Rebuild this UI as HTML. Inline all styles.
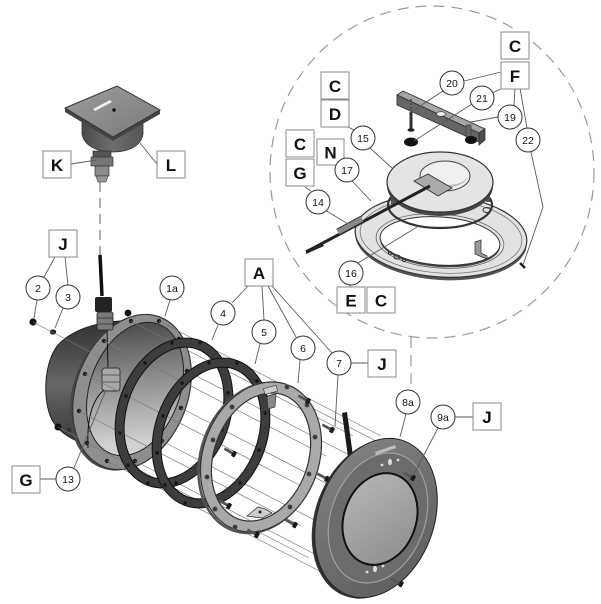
<!DOCTYPE html>
<html><head><meta charset="utf-8">
<style>
html,body{margin:0;padding:0;background:#fff;}
svg{display:block;}
.lb{font-family:"Liberation Sans",Arial,sans-serif;font-weight:bold;font-size:17px;fill:#111;text-anchor:middle;}
.nm{font-family:"Liberation Sans",Arial,sans-serif;font-size:10.5px;fill:#111;text-anchor:middle;}
.bx{fill:#fff;stroke:#8a8a8a;stroke-width:1;}
.ci{fill:#fff;stroke:#333;stroke-width:1;}
.ld{stroke:#5a5a5a;stroke-width:0.9;fill:none;}
.al{stroke:#7a7a7a;stroke-width:0.7;fill:none;}
</style></head><body>
<svg width="601" height="604" viewBox="0 0 601 604" xmlns="http://www.w3.org/2000/svg">
<defs>
<linearGradient id="bodyG" x1="0" y1="0" x2="0" y2="1">
 <stop offset="0" stop-color="#2f2f2f"/><stop offset=".45" stop-color="#676767"/><stop offset="1" stop-color="#2a2a2a"/>
</linearGradient>
<linearGradient id="openG" x1="0" y1="0" x2="0.3" y2="1">
 <stop offset="0" stop-color="#3a3a3a"/><stop offset=".5" stop-color="#8a8a8a"/><stop offset="1" stop-color="#d2d2d2"/>
</linearGradient>
<linearGradient id="plateG" x1="0" y1="0" x2="1" y2="1"><stop offset="0" stop-color="#9c9c9c"/><stop offset="1" stop-color="#7a7a7a"/></linearGradient>
<linearGradient id="bowlG" x1="0" y1="0" x2="1" y2="0"><stop offset="0" stop-color="#4a4a4a"/><stop offset=".5" stop-color="#6e6e6e"/><stop offset="1" stop-color="#555"/></linearGradient>
<linearGradient id="lampG" x1="0" y1="0" x2="1" y2="1"><stop offset="0" stop-color="#858585"/><stop offset="1" stop-color="#5a5a5a"/></linearGradient>
<linearGradient id="lensG" x1="0" y1="0" x2="1" y2="1"><stop offset="0" stop-color="#b8b8b8"/><stop offset="1" stop-color="#8c8c8c"/></linearGradient>
<g id="scr"><rect x="-11" y="-1.4" width="10" height="2.8" fill="#555"/><rect x="-2" y="-3" width="4" height="6" rx="1" fill="#1a1a1a"/></g>
</defs>

<!-- dashed detail circle -->
<ellipse cx="432" cy="172" rx="162" ry="166" fill="none" stroke="#9a9a9a" stroke-width="1.2" stroke-dasharray="11 7"/>
<line x1="411" y1="337" x2="411" y2="384" stroke="#9a9a9a" stroke-width="1.2" stroke-dasharray="11 7"/>
<line x1="100" y1="182" x2="100" y2="262" stroke="#777" stroke-width="1.2" stroke-dasharray="10 6"/>

<!-- junction box -->
<path d="M82,121 L82,134 C84,147 100,152 112,152 C127,152 141,147 143,134 L143,121 Z" fill="url(#bowlG)" stroke="#333" stroke-width="0.8"/>
<polygon points="65,108 113,137 160,110 160,114 113,141 65,112" fill="#444"/>
<polygon points="65,108 117,86 160,110 113,137" fill="url(#plateG)" stroke="#333" stroke-width="1"/>
<polygon points="93,109 110,100 112,102 95,111" fill="#eee"/>
<circle cx="114" cy="110" r="1.7" fill="#111"/>
<rect x="93" y="151" width="18" height="7" fill="#555" stroke="#333" stroke-width=".7"/>
<rect x="91" y="157" width="22" height="9" fill="#777" stroke="#333" stroke-width=".7"/>
<rect x="95" y="166" width="14" height="10" fill="#8a8a8a" stroke="#333" stroke-width=".7"/>
<path d="M96,176 L108,176 L106,182 L98,182 Z" fill="#999" stroke="#333" stroke-width=".6"/>

<!-- top right assembly -->
<!-- ring 16 -->
<ellipse cx="441" cy="239" rx="86" ry="41" transform="rotate(4 441 239)" fill="#555"/>
<ellipse cx="441" cy="236" rx="86" ry="41" transform="rotate(4 441 236)" fill="#e2e2e2" stroke="#333" stroke-width="1.2"/>
<ellipse cx="441" cy="236" rx="81" ry="37" transform="rotate(4 441 236)" fill="none" stroke="#777" stroke-width="0.8"/>
<ellipse cx="440" cy="241" rx="64" ry="27" transform="rotate(4 440 241)" fill="none" stroke="#666" stroke-width="0.8"/>
<ellipse cx="440" cy="243" rx="60" ry="24" transform="rotate(4 440 243)" fill="#444"/>
<ellipse cx="440" cy="241" rx="60" ry="24" transform="rotate(4 440 241)" fill="#fff" stroke="#333" stroke-width="1"/>
<circle cx="390" cy="253" r="1.6" fill="none" stroke="#333"/>
<ellipse cx="397" cy="257" rx="3" ry="2" fill="none" stroke="#333"/>
<circle cx="404" cy="260" r="1.6" fill="none" stroke="#333"/>
<ellipse cx="487" cy="210" rx="4" ry="2.5" fill="none" stroke="#333"/>
<polygon points="475,242 481,240 481,253 487,256 487,259 475,254" fill="#999" stroke="#333" stroke-width=".8"/>
<!-- gasket 17 -->
<ellipse cx="440" cy="205" rx="52" ry="23" fill="none" stroke="#333" stroke-width="2.2"/>
<rect x="391" y="192" width="4" height="12" fill="#555"/>
<rect x="486" y="190" width="4" height="12" fill="#555"/>
<!-- disc 15 -->
<ellipse cx="440" cy="186" rx="53" ry="30" fill="#444"/>
<ellipse cx="440" cy="182" rx="53" ry="30" fill="#e4e4e4" stroke="#333" stroke-width="1.2"/>
<ellipse cx="445" cy="176" rx="25" ry="15" fill="#f0f0f0" stroke="#444" stroke-width="1"/>
<path d="M433,187 C448,190 466,186 468,176 C465,184 450,187 433,184 Z" fill="#bbb"/>
<polygon points="414,181 428,174 452,188 438,196" fill="#aaa" stroke="#333" stroke-width="0.9"/>
<!-- cable 14 -->
<line x1="430" y1="186" x2="306" y2="252" stroke="#222" stroke-width="3"/>
<line x1="338" y1="232" x2="362" y2="219" stroke="#333" stroke-width="7"/>
<line x1="338" y1="232" x2="362" y2="219" stroke="#8a8a8a" stroke-width="5"/>
<polygon points="306,250 322,243 324,246 306,254" fill="#222"/>
<!-- bracket -->
<polygon points="397,95 403,91 485,129 479,133" fill="#a6a6a6" stroke="#333" stroke-width=".9"/>
<polygon points="397,95 479,133 479,142 397,105" fill="#666" stroke="#333" stroke-width=".9"/>
<polygon points="479,133 485,129 485,140 479,145" fill="#4a4a4a" stroke="#333" stroke-width=".8"/>
<ellipse cx="441" cy="114" rx="4.5" ry="2.3" fill="#eee" stroke="#333" stroke-width=".6"/>
<rect x="466" y="125" width="5" height="12" fill="#666" stroke="#333" stroke-width=".6"/>
<line x1="411" y1="99" x2="411" y2="112" stroke="#444" stroke-width="1.5" stroke-dasharray="2 2"/>
<rect x="409.5" y="112" width="3" height="17" fill="#333"/>
<ellipse cx="411" cy="130" rx="3.5" ry="1.8" fill="#222"/>
<ellipse cx="411" cy="142" rx="7" ry="4.5" fill="#111"/>
<ellipse cx="471" cy="140" rx="6" ry="4" fill="#111"/>
<!-- screw 22 -->
<path d="M520,263 L525,268" stroke="#222" stroke-width="2.5"/>

<!-- housing body -->
<path d="M150,320 L120,321 C95,323 72,330 58,345 C44,362 42,400 52,420 C58,430 66,436 75,440 L110,462 Z" fill="url(#bodyG)" stroke="#222" stroke-width="1"/>
<!-- flange -->
<ellipse cx="129" cy="393" rx="56" ry="80" transform="rotate(20 129 393)" fill="#4a4a4a"/>
<ellipse cx="132" cy="392" rx="56" ry="80" transform="rotate(20 132 392)" fill="#8e8e8e" stroke="#333" stroke-width="1.2"/>
<ellipse cx="135" cy="389" rx="45" ry="69" transform="rotate(20 135 389)" fill="url(#openG)" stroke="#222" stroke-width="1"/>
<g fill="#1e1e1e">
<circle cx="181" cy="408" r="2.2"/><circle cx="162" cy="441" r="2.2"/><circle cx="135" cy="461" r="2.2"/>
<circle cx="107" cy="461" r="2.2"/><circle cx="87" cy="443" r="2.2"/><circle cx="79" cy="411" r="2.2"/>
<circle cx="85" cy="374" r="2.2"/><circle cx="104" cy="341" r="2.2"/><circle cx="131" cy="321" r="2.2"/>
<circle cx="159" cy="321" r="2.2"/><circle cx="179" cy="339" r="2.2"/><circle cx="187" cy="371" r="2.2"/>
</g>
<!-- cable gland top -->
<line x1="100" y1="255" x2="102" y2="296" stroke="#111" stroke-width="3.5"/>
<rect x="95" y="297" width="17" height="15" rx="2" fill="#222"/>
<rect x="97" y="312" width="16" height="18" rx="2" fill="#7a7a7a" stroke="#222" stroke-width=".8"/>
<line x1="97" y1="318" x2="113" y2="318" stroke="#333" stroke-width=".8"/>
<line x1="97" y1="324" x2="113" y2="324" stroke="#333" stroke-width=".8"/>
<line x1="107" y1="331" x2="108" y2="367" stroke="#111" stroke-width="1"/>
<!-- gland 13 -->
<rect x="102" y="368" width="18" height="23" rx="3" fill="#a8a8a8" stroke="#333" stroke-width=".9"/>
<line x1="102" y1="375" x2="120" y2="375" stroke="#444" stroke-width=".8"/>
<line x1="102" y1="382" x2="120" y2="382" stroke="#444" stroke-width=".8"/>
<path d="M104,390 Q86,405 88,448" fill="none" stroke="#111" stroke-width="1"/>
<!-- nuts -->
<circle cx="33" cy="322" r="3.6" fill="#111"/>
<ellipse cx="53" cy="332" rx="3.2" ry="2.6" fill="#222"/>
<circle cx="128" cy="313" r="3.4" fill="#111"/>
<circle cx="58" cy="427" r="3.5" fill="#111"/>
<circle cx="69" cy="430" r="2.5" fill="#333"/>

<!-- alignment lines -->
<g class="al">
<line x1="33" y1="322" x2="100" y2="357"/>
<line x1="58" y1="427" x2="79" y2="438"/>
<line x1="131" y1="321" x2="353" y2="436"/>
<line x1="159" y1="321" x2="381" y2="436"/>
<line x1="179" y1="339" x2="401" y2="454"/>
<line x1="187" y1="371" x2="409" y2="486"/>
<line x1="181" y1="408" x2="403" y2="523"/>
<line x1="162" y1="441" x2="384" y2="556"/>
<line x1="135" y1="461" x2="357" y2="576"/>
<line x1="107" y1="461" x2="329" y2="576"/>
<line x1="87" y1="443" x2="309" y2="558"/>
<line x1="79" y1="411" x2="301" y2="526"/>
<line x1="85" y1="374" x2="307" y2="489"/>
<line x1="104" y1="341" x2="326" y2="456"/>
</g>

<!-- ring 4 -->
<ellipse cx="174" cy="413" rx="51.5" ry="72.5" transform="rotate(20 174 413)" fill="none" stroke="#3d3d3d" stroke-width="9"/>
<ellipse cx="174" cy="413" rx="56" ry="77" transform="rotate(20 174 413)" fill="none" stroke="#111" stroke-width="1"/>
<ellipse cx="174" cy="413" rx="47" ry="68" transform="rotate(20 174 413)" fill="none" stroke="#111" stroke-width="1"/>
<g fill="#151515">
<circle cx="222" cy="430" r="1.7"/><circle cx="203" cy="463" r="1.7"/><circle cx="176" cy="483" r="1.7"/>
<circle cx="148" cy="483" r="1.7"/><circle cx="128" cy="465" r="1.7"/><circle cx="120" cy="433" r="1.7"/>
<circle cx="126" cy="396" r="1.7"/><circle cx="145" cy="363" r="1.7"/><circle cx="172" cy="343" r="1.7"/>
<circle cx="200" cy="343" r="1.7"/><circle cx="220" cy="361" r="1.7"/><circle cx="228" cy="393" r="1.7"/>
</g>
<!-- ring 5 -->
<ellipse cx="211" cy="433" rx="51.5" ry="72.5" transform="rotate(20 211 433)" fill="none" stroke="#3d3d3d" stroke-width="9"/>
<ellipse cx="211" cy="433" rx="56" ry="77" transform="rotate(20 211 433)" fill="none" stroke="#111" stroke-width="1"/>
<ellipse cx="211" cy="433" rx="47" ry="68" transform="rotate(20 211 433)" fill="none" stroke="#111" stroke-width="1"/>
<g fill="#151515">
<circle cx="259" cy="450" r="1.7"/><circle cx="240" cy="483" r="1.7"/><circle cx="213" cy="503" r="1.7"/>
<circle cx="185" cy="503" r="1.7"/><circle cx="165" cy="485" r="1.7"/><circle cx="157" cy="453" r="1.7"/>
<circle cx="163" cy="416" r="1.7"/><circle cx="182" cy="383" r="1.7"/><circle cx="209" cy="363" r="1.7"/>
<circle cx="237" cy="363" r="1.7"/><circle cx="257" cy="381" r="1.7"/><circle cx="265" cy="413" r="1.7"/>
</g>
<!-- screws between -->
<use href="#scr" transform="translate(234,454) rotate(29)"/>
<use href="#scr" transform="translate(229,506) rotate(29)"/>
<!-- ring 6 -->
<ellipse cx="259" cy="458" rx="58" ry="77" transform="rotate(20 259 458)" fill="none" stroke="#555" stroke-width="2.5"/>
<ellipse cx="261" cy="457" rx="52.5" ry="71.5" transform="rotate(20 261 457)" fill="none" stroke="#a9a9a9" stroke-width="11"/>
<ellipse cx="261" cy="457" rx="58" ry="77" transform="rotate(20 261 457)" fill="none" stroke="#333" stroke-width="1.2"/>
<ellipse cx="261" cy="457" rx="47" ry="66" transform="rotate(20 261 457)" fill="none" stroke="#333" stroke-width="1.2"/>
<g fill="#3a3a3a" stroke="#777" stroke-width=".6">
<circle cx="309" cy="474" r="2.4"/><circle cx="290" cy="507" r="2.4"/>
<circle cx="235" cy="527" r="2.4"/><circle cx="215" cy="509" r="2.4"/><circle cx="207" cy="477" r="2.4"/>
<circle cx="213" cy="440" r="2.4"/><circle cx="232" cy="407" r="2.4"/>
<circle cx="287" cy="387" r="2.4"/><circle cx="307" cy="405" r="2.4"/><circle cx="315" cy="437" r="2.4"/>
</g>
<rect x="264" y="387" width="13" height="6" fill="#ccc" stroke="#333" stroke-width=".6" transform="rotate(-15 270 390)"/>
<polygon points="267,396 276,394 275,407 268,409" fill="#888" stroke="#333" stroke-width=".7"/>
<polygon points="247,516 258,507 265,509 272,513 262,518" fill="#cfcfcf" stroke="#333" stroke-width=".8"/>
<circle cx="260" cy="512" r="1.5" fill="#222"/>
<!-- screws near ring 6 -->
<use href="#scr" transform="translate(308,401) rotate(29)"/>
<use href="#scr" transform="translate(332,430) rotate(29)"/>
<use href="#scr" transform="translate(327,479) rotate(29)"/>
<use href="#scr" transform="translate(295,525) rotate(29)"/>
<use href="#scr" transform="translate(257,535) rotate(29)"/>
<!-- rod -->
<polygon points="342,413 347,412 353,456 348,457" fill="#1a1a1a"/>
<!-- lamp -->
<ellipse cx="373" cy="519" rx="58" ry="82" transform="rotate(20 373 519)" fill="#333"/>
<ellipse cx="376" cy="518" rx="58" ry="82" transform="rotate(20 376 518)" fill="url(#lampG)" stroke="#222" stroke-width="1"/>
<ellipse cx="378" cy="518" rx="47" ry="67" transform="rotate(20 378 518)" fill="#6c6c6c" stroke="#a0a0a0" stroke-width="1.2"/>
<ellipse cx="380" cy="519" rx="36" ry="47" transform="rotate(20 380 519)" fill="url(#lensG)" stroke="#111" stroke-width="2"/>
<polygon points="375,452 395,445 396,448 376,455" fill="#bdbdbd"/>
<ellipse cx="390" cy="462" rx="2" ry="3.2" fill="#ddd"/>
<circle cx="382" cy="465" r="1.4" fill="#ddd"/><circle cx="398" cy="460" r="1.4" fill="#ddd"/>
<ellipse cx="375" cy="569" rx="2" ry="3.2" fill="#ddd"/>
<circle cx="367" cy="572" r="1.4" fill="#ddd"/><circle cx="383" cy="566" r="1.4" fill="#ddd"/>
<use href="#scr" transform="translate(413,478) rotate(29)"/>
<use href="#scr" transform="translate(401,584) rotate(29)"/>

<!-- leader lines -->
<g class="ld">
<line x1="71" y1="164" x2="97" y2="160"/>
<line x1="157" y1="164" x2="140" y2="143"/>
<line x1="55" y1="257" x2="44" y2="277"/>
<line x1="65" y1="257" x2="68" y2="285"/>
<line x1="37" y1="300" x2="34" y2="318"/>
<line x1="63" y1="308" x2="55" y2="328"/>
<line x1="170" y1="300" x2="165" y2="316"/>
<line x1="248" y1="286" x2="232" y2="303"/>
<line x1="262" y1="286" x2="264" y2="320"/>
<line x1="268" y1="286" x2="296" y2="337"/>
<line x1="272" y1="286" x2="332" y2="353"/>
<line x1="218" y1="325" x2="212" y2="340"/>
<line x1="260" y1="344" x2="255" y2="364"/>
<line x1="300" y1="360" x2="298" y2="383"/>
<line x1="338" y1="375" x2="335" y2="426"/>
<line x1="351" y1="363" x2="368" y2="363"/>
<line x1="406" y1="414" x2="400" y2="437"/>
<line x1="438" y1="428" x2="413" y2="476"/>
<line x1="455" y1="417" x2="473" y2="417"/>
<line x1="39" y1="479" x2="56" y2="479"/>
<line x1="74" y1="468" x2="106" y2="390"/>
<line x1="501" y1="72" x2="464" y2="81"/>
<line x1="503" y1="88" x2="492" y2="93"/>
<line x1="515" y1="88" x2="514" y2="106"/>
<line x1="520" y1="88" x2="527" y2="128"/>
<line x1="443" y1="91" x2="411" y2="112"/>
<line x1="472" y1="104" x2="414" y2="141"/>
<line x1="498" y1="117" x2="471" y2="122"/>
<polyline points="531,152 543,207 523,265"/>
<line x1="348" y1="127" x2="356" y2="131"/>
<line x1="370" y1="148" x2="392" y2="168"/>
<line x1="352" y1="181" x2="371" y2="201"/>
<line x1="305" y1="187" x2="311" y2="191"/>
<line x1="325" y1="210" x2="348" y2="224"/>
<line x1="358" y1="263" x2="417" y2="227"/>
<line x1="350" y1="285" x2="350" y2="287"/>
</g>

<!-- label boxes -->
<g>
<rect class="bx" x="43" y="151" width="28" height="27"/><text class="lb" x="57" y="171">K</text>
<rect class="bx" x="157" y="151" width="28" height="27"/><text class="lb" x="171" y="171">L</text>
<rect class="bx" x="49" y="230" width="28" height="27"/><text class="lb" x="63" y="250">J</text>
<rect class="bx" x="245" y="259" width="28" height="27"/><text class="lb" x="259" y="279">A</text>
<rect class="bx" x="501" y="32" width="28" height="27"/><text class="lb" x="515" y="52">C</text>
<rect class="bx" x="501" y="62" width="28" height="27"/><text class="lb" x="515" y="82">F</text>
<rect class="bx" x="321" y="72" width="28" height="27"/><text class="lb" x="335" y="92">C</text>
<rect class="bx" x="321" y="100" width="28" height="27"/><text class="lb" x="335" y="120">D</text>
<rect class="bx" x="286" y="130" width="28" height="27"/><text class="lb" x="300" y="150">C</text>
<rect class="bx" x="286" y="159" width="28" height="27"/><text class="lb" x="300" y="179">G</text>
<rect class="bx" x="317" y="139" width="27" height="26"/><text class="lb" x="330.5" y="158.5">N</text>
<rect class="bx" x="337" y="287" width="28" height="26"/><text class="lb" x="351" y="306.5">E</text>
<rect class="bx" x="367" y="287" width="28" height="26"/><text class="lb" x="381" y="306.5">C</text>
<rect class="bx" x="368" y="350" width="28" height="27"/><text class="lb" x="382" y="370">J</text>
<rect class="bx" x="473" y="403" width="28" height="27"/><text class="lb" x="487" y="423">J</text>
<rect class="bx" x="12" y="466" width="28" height="27"/><text class="lb" x="26" y="486">G</text>
</g>

<!-- number circles -->
<g>
<circle class="ci" cx="38" cy="288" r="12"/><text class="nm" x="38" y="292">2</text>
<circle class="ci" cx="68" cy="297" r="12"/><text class="nm" x="68" y="301">3</text>
<circle class="ci" cx="172" cy="288" r="12"/><text class="nm" x="172" y="292">1a</text>
<circle class="ci" cx="223" cy="313" r="12"/><text class="nm" x="223" y="317">4</text>
<circle class="ci" cx="264" cy="332" r="12"/><text class="nm" x="264" y="336">5</text>
<circle class="ci" cx="303" cy="348" r="12"/><text class="nm" x="303" y="352">6</text>
<circle class="ci" cx="339" cy="363" r="12"/><text class="nm" x="339" y="367">7</text>
<circle class="ci" cx="408" cy="402" r="12"/><text class="nm" x="408" y="406">8a</text>
<circle class="ci" cx="443" cy="417" r="12"/><text class="nm" x="443" y="421">9a</text>
<circle class="ci" cx="68" cy="479" r="12"/><text class="nm" x="68" y="483">13</text>
<circle class="ci" cx="452" cy="83" r="12"/><text class="nm" x="452" y="87">20</text>
<circle class="ci" cx="482" cy="98" r="12"/><text class="nm" x="482" y="102">21</text>
<circle class="ci" cx="510" cy="117" r="12"/><text class="nm" x="510" y="121">19</text>
<circle class="ci" cx="528" cy="140" r="12"/><text class="nm" x="528" y="144">22</text>
<circle class="ci" cx="363" cy="138" r="12"/><text class="nm" x="363" y="142">15</text>
<circle class="ci" cx="347" cy="170" r="12"/><text class="nm" x="347" y="174">17</text>
<circle class="ci" cx="318" cy="202" r="12"/><text class="nm" x="318" y="206">14</text>
<circle class="ci" cx="351" cy="273" r="12"/><text class="nm" x="351" y="277">16</text>
</g>
</svg>
</body></html>
